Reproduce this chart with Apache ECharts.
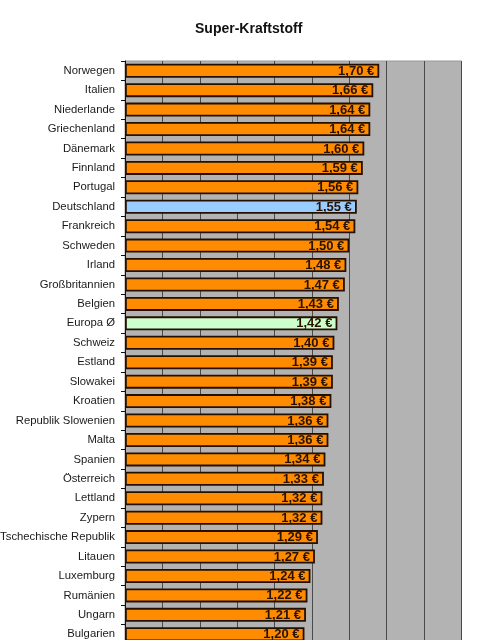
<!DOCTYPE html>
<html>
<head>
<meta charset="utf-8">
<script src="https://cdn.jsdelivr.net/npm/echarts@6/dist/echarts.min.js"></script>
<style>html,body{margin:0;padding:0;background:#fff}#c{width:480px;height:640px}</style>
</head>
<body>
<div id="c"></div>
<script>
const titleText = 'Super-Kraftstoff';
const categories = ['Norwegen','Italien','Niederlande','Griechenland','Dänemark','Finnland','Portugal','Deutschland','Frankreich','Schweden','Irland','Großbritannien','Belgien','Europa Ø','Schweiz','Estland','Slowakei','Kroatien','Republik Slowenien','Malta','Spanien','Österreich','Lettland','Zypern','Tschechische Republik','Litauen','Luxemburg','Rumänien','Ungarn','Bulgarien'];
const prices = [1.70,1.66,1.64,1.64,1.60,1.59,1.56,1.55,1.54,1.50,1.48,1.47,1.43,1.42,1.40,1.39,1.39,1.38,1.36,1.36,1.34,1.33,1.32,1.32,1.29,1.27,1.24,1.22,1.21,1.20];
const highlight = {'Deutschland':'#99ccff','Europa Ø':'#ccffcc'};

const chart = echarts.init(document.getElementById('c'), null, {renderer:'canvas'});
chart.setOption({
  animation:false,
  backgroundColor:'#ffffff',
  title:{text:titleText,left:190,top:17,
    textStyle:{fontFamily:'Liberation Sans, Arial, sans-serif',fontSize:14,fontWeight:'bold',color:'#111'}},
  grid:{left:125,right:18.5,top:61,height:583,containLabel:false,outerBoundsMode:'none',
    show:true,backgroundColor:'#b3b3b3',borderColor:'#9a9a9a',borderWidth:1},
  xAxis:{type:'value',min:0,max:2.25,interval:0.25,
    axisLabel:{show:false},axisTick:{show:false},axisLine:{show:false},
    splitLine:{show:true,lineStyle:{color:'#4a4a4a',width:1}}},
  yAxis:{type:'category',inverse:true,data:categories,
    axisLine:{show:true,lineStyle:{color:'#111',width:1}},
    axisTick:{show:true,length:4,lineStyle:{color:'#111'}},
    axisLabel:{margin:10,fontFamily:'Liberation Sans, Arial, sans-serif',fontSize:11.3,color:'#1a1a1a'}},
  series:[{
    type:'bar',
    barCategoryGap:'28%',
    data:prices.map((v,i)=>({value:v,itemStyle:{color:highlight[categories[i]]||'#ff8c00'}})),
    itemStyle:{borderColor:'#241000',borderWidth:1.8},
    label:{show:true,position:'insideRight',distance:5,offset:[0,0.5],
      formatter:p=>p.value.toFixed(2).replace('.',',')+' €',
      fontFamily:'Liberation Sans, Arial, sans-serif',fontSize:13,fontWeight:'bold',color:'#2a1200'}
  }]
});
</script>
</body>
</html>
